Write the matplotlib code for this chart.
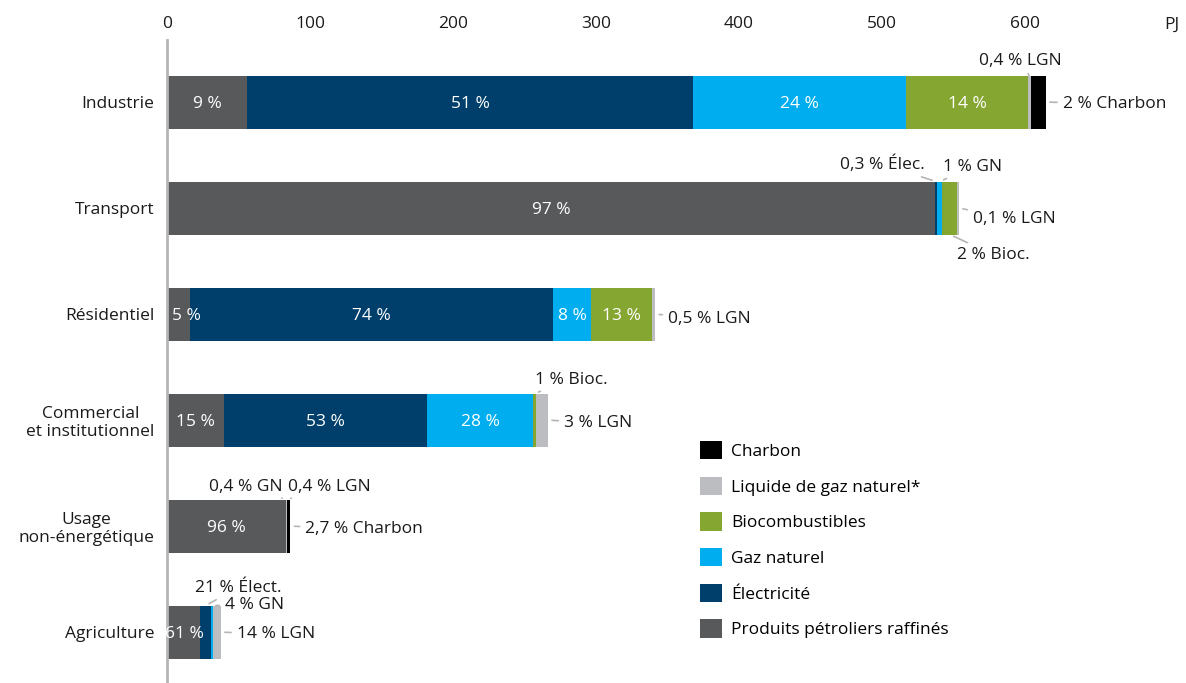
import numpy as np
import matplotlib
matplotlib.use("Agg")
import matplotlib.pyplot as plt
from matplotlib.patches import Patch

plt.rcParams["font.family"] = ["Open Sans", "DejaVu Sans"]
plt.rcParams["font.size"] = 12.5

# secteurs (de haut en bas)
sectors = ["Industrie", "Transport", "Résidentiel", "Commercial\net institutionnel",
           "Usage\nnon-énergétique", "Agriculture"]

# consommation par forme d'énergie, PJ
petrole = [56, 537, 16, 40, 83.2, 23]
electricite = [312, 1.8, 254, 142, 0, 7.7]
gaz = [149, 3.5, 26.6, 74, 0.35, 1.2]
bio = [85, 10.5, 42.7, 2, 0, 0]
lgn = [2, 1, 2, 8.4, 0.35, 5.6]
charbon = [10.5, 0, 0, 0, 2.3, 0]

fuels = ["Produits pétroliers raffinés", "Électricité", "Gaz naturel",
         "Biocombustibles", "Liquide de gaz naturel*", "Charbon"]
colors = ["#58595b", "#003e6b", "#00aeef", "#86a632", "#bcbdc0", "#000000"]

# pourcentages affichés dans les barres : (secteur, forme, texte, décalage px)
inside_labels = [
    (0, 0, "9 %", 0), (0, 1, "51 %", 0), (0, 2, "24 %", 0), (0, 3, "14 %", 0),
    (1, 0, "97 %", 0),
    (2, 0, "5 %", 8), (2, 1, "74 %", 0), (2, 2, "8 %", 0), (2, 3, "13 %", 0),
    (3, 0, "15 %", 0), (3, 1, "53 %", 0), (3, 2, "28 %", 0),
    (4, 0, "96 %", 0),
    (5, 0, "61 %", 1),
]

# étiquettes externes : (secteur, forme, texte, ancrage, décalage px, ha)
outside_labels = [
    (0, 4, "0,4 % LGN", "top", (-9, 17), "center"),
    (0, 5, "2 % Charbon", "right", (17, 0), "left"),
    (1, 1, "0,3 % Élec.", "top", (-11, 19), "right"),
    (1, 2, "1 % GN", "top", (3, 17), "left"),
    (1, 4, "0,1 % LGN", "right", (14, -9), "left"),
    (1, 3, "2 % Bioc.", "bottom", (7, -18), "left"),
    (2, 4, "0,5 % LGN", "right", (13, -3), "left"),
    (3, 3, "1 % Bioc.", "top", (1, 16), "left"),
    (3, 4, "3 % LGN", "right", (16, -1), "left"),
    (4, 2, "0,4 % GN", "top", (-4, 15), "right"),
    (4, 4, "0,4 % LGN", "top", (1, 15), "left"),
    (4, 5, "2,7 % Charbon", "right", (15, -1), "left"),
    (5, 1, "21 % Élect.", "top", (33, 20), "center"),
    (5, 2, "4 % GN", "top", (13, 3), "left"),
    (5, 4, "14 % LGN", "right", (16, 0), "left"),
]

data = np.array([petrole, electricite, gaz, bio, lgn, charbon])
starts = np.vstack([np.zeros(len(sectors)), np.cumsum(data, axis=0)[:-1]])

fig = plt.figure(figsize=(11.86, 6.83), dpi=100)
ax = fig.add_axes([167 / 1186, 0, 1008 / 1186, 643 / 683])

y = np.arange(len(sectors))
h = 0.5
for k in range(len(fuels)):
    ax.barh(y, data[k], left=starts[k], height=h, color=colors[k], label=fuels[k], linewidth=0)

for s, f, txt, dx in inside_labels:
    ax.annotate(txt, xy=(starts[f, s] + data[f, s] / 2, s), xytext=(dx, 0),
                textcoords="offset pixels", ha="center", va="center_baseline", color="white")

for s, f, txt, anchor, off, ha in outside_labels:
    x0, w = starts[f, s], data[f, s]
    if anchor == "top":
        xy = (x0 + w / 2, s - h / 2)
    elif anchor == "bottom":
        xy = (x0 + w / 2, s + h / 2)
    else:
        xy = (x0 + w, s)
    ax.annotate(txt, xy=xy, xytext=off, textcoords="offset pixels", ha=ha,
                va="center_baseline", color="#1a1a1a",
                arrowprops=dict(arrowstyle="-", color="#b5b5b5", lw=1.2, shrinkA=2, shrinkB=3))

ax.set_xlim(0, 705)
ax.set_ylim(5.48, -0.585)
ax.set_xticks(range(0, 700, 100))
ax.xaxis.tick_top()
ax.tick_params(axis="x", length=0, pad=6, colors="#1a1a1a")
ax.set_yticks(y)
ax.set_yticklabels(sectors)
for lbl in ax.get_yticklabels():
    lbl.set_multialignment("center")
ax.tick_params(axis="y", length=0, pad=9, colors="#1a1a1a")
for side in ["top", "right", "bottom"]:
    ax.spines[side].set_visible(False)
ax.spines["left"].set_color("#b5b5b5")
ax.spines["left"].set_linewidth(2)

ax.annotate("PJ", xy=(1, 1), xycoords="axes fraction", xytext=(4, 15),
            textcoords="offset pixels", ha="right", va="center", color="#1a1a1a")

handles = [Patch(facecolor=c, label=f) for f, c in zip(fuels, colors)][::-1]
fig.legend(handles=handles, loc="upper left", bbox_to_anchor=(700 / 1186, 1 - 441 / 683),
           frameon=False, handlelength=1.25, handleheight=1.25, labelspacing=0.96,
           handletextpad=0.55, borderpad=0, borderaxespad=0, fontsize=12.5)

fig.savefig("out.png", dpi=100)
